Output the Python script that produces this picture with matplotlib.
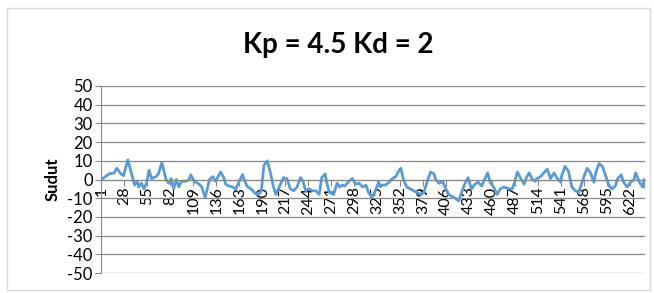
import matplotlib
matplotlib.use("Agg")
import matplotlib.pyplot as plt
from matplotlib.patches import Rectangle

# sample number (x category) and angle
idx = [1, 10, 16, 19, 24, 27, 32, 37, 40, 43, 45, 48, 51, 54, 57, 60, 65, 68, 72, 77,
       80, 83, 86, 89, 92, 95, 100, 104, 106, 110, 116, 119, 123, 128, 132, 135, 141, 145, 147, 151,
       155, 159, 163, 167, 168, 172, 178, 182, 186, 189, 192, 196, 200, 203, 206, 210, 215, 219, 223, 227,
       231, 235, 238, 241, 245, 249, 253, 257, 260, 264, 266, 269, 274, 278, 281, 284, 287, 292, 296, 300,
       304, 308, 312, 315, 319, 323, 327, 329, 331, 335, 339, 343, 347, 351, 353, 356, 360, 364, 368, 372,
       376, 380, 384, 388, 392, 394, 398, 402, 406, 409, 413, 417, 421, 425, 428, 432, 436, 440, 444, 448,
       452, 455, 458, 462, 466, 470, 474, 480, 484, 487, 490, 494, 498, 501, 504, 507, 511, 513, 517, 521,
       525, 529, 533, 537, 541, 542, 546, 550, 554, 558, 562, 566, 569, 572, 576, 580, 582, 586, 590, 593,
       598, 601, 605, 608, 612, 615, 619, 623, 627, 629, 633, 637, 639, 640]
sudut = [0, 3, 3.5, 6, 3, 2, 10.5, 2, -3, -1, -4, -2, -5, -2, 5, 0.5, 1.5, 3, 9, 0,
         -2, 0.5, -5, 0, -4, -1, -1, 0, 2.5, -1, -2.5, -4, -9.6, 0, 1.5, -1, 4, 1, -2.5, -3.5,
         -4, -5, -1, 2.7, 1, -3.5, -5.5, -7.5, -8, -6, 7.5, 10, 3, -3.5, -8, -4, 1, 0.5, -5, -6,
         -4, 1, -1, -6, -5, -6, -6, -8, 1, 3, -2, -7, -8, -2, -4, -3, -3.5, -1, 0.5, -2.5,
         -2, -4, -3, -7, -9.5, -6, -1.5, -4, -3, -3, -1.5, 0.5, 1.5, 5, 6, 0, -4, -5, -6, -7,
         -8, -7, -1, 4, 3, 0, -2, -1, -5, -8, -9, -10, -11.5, -6, -2.5, 1, -5, -2.5, -1.5, -3.5,
         0.5, 3.5, -1.5, -4, -8, -5, -4, -5, -5, -1, 4, 0.5, -2.5, 1.5, 3.5, 0.5, -1, 0.5, 1.5, 3.5,
         5.5, 0.5, 3.5, 0.5, -1.5, 2, 7, 4.5, -4, -6, -7, -1.5, 2.5, 6, 3.5, -1.5, 3.5, 8.5, 7, 3,
         -3.5, -5, -3.5, 0.5, 2.5, -1.5, -4, -1.5, 0, 3.5, -1, -4, 0, -4]

n_points = 640
xtick_pos = list(range(1, n_points + 1, 27))
yticks = list(range(-50, 51, 10))

plt.rcParams['font.family'] = ['Lato', 'DejaVu Sans']
plt.rcParams['axes.unicode_minus'] = False

fig = plt.figure(figsize=(6.54, 2.93), dpi=100)
fig.patches.append(Rectangle((7 / 654, 3 / 293), 643 / 654, 282 / 293, transform=fig.transFigure,
                             fill=False, edgecolor='#d9d9d9', lw=1))
ax = fig.add_axes([101 / 654, 1 - 273 / 293, 544 / 654, 187 / 293])

grid_col = '#878787'
ax.plot(idx, sudut, color='#5b9bd5', lw=2.0, solid_joinstyle='round')
ax.set_xlim(0.5, n_points)
ax.set_ylim(-50, 50)
ax.set_yticks(yticks)
ax.set_xticks(xtick_pos)
ax.set_xticklabels([str(v) for v in xtick_pos])
ax.grid(axis='y', color=grid_col, lw=0.9)
ax.set_axisbelow(True)

for s in ['top', 'right']:
    ax.spines[s].set_visible(False)
ax.spines['bottom'].set_position(('data', 0))
ax.spines['bottom'].set_color(grid_col)
ax.spines['left'].set_color(grid_col)
ax.tick_params(axis='x', colors=grid_col, length=4, labelcolor='black', labelsize=11.5,
               pad=1, labelrotation=90)
ax.tick_params(axis='y', colors=grid_col, length=4, labelcolor='black', labelsize=12, pad=2)

ax.set_ylabel('Sudut', fontsize=12, fontweight='bold', labelpad=5)
fig.text(338 / 654, 1 - 45 / 293, 'Kp = 4.5 Kd = 2', ha='center', va='center',
         fontsize=20, fontweight='bold')

fig.savefig('out.png', dpi=100)
